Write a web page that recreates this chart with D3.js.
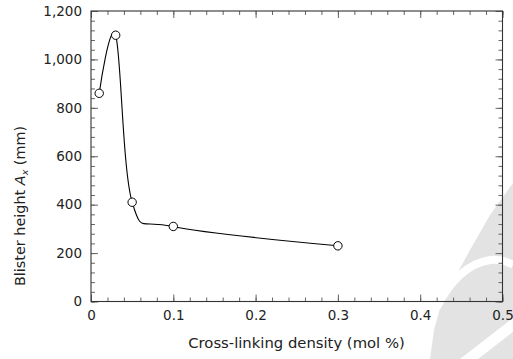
<!DOCTYPE html>
<html>
<head>
<meta charset="utf-8">
<script src="https://cdn.jsdelivr.net/npm/d3@7"></script>
<style>
  html, body { margin: 0; padding: 0; background: #fff; }
  svg { display: block; }
  text { font-family: "DejaVu Sans", sans-serif; fill: #222; }
</style>
</head>
<body>
<svg id="chart" width="513" height="359"></svg>
<script>
// ---- data ----
const density = [0.01, 0.03, 0.05, 0.1, 0.3];          // mol %
const blisterHeight = [860, 1100, 410, 310, 230];       // mm
const xTicks = [0, 0.1, 0.2, 0.3, 0.4, 0.5];
const yTicks = [0, 200, 400, 600, 800, 1000, 1200];
const xLabel = "Cross-linking density (mol %)";

const svg = d3.select("#chart");
const mL = 91, mR = 502.5, mT = 11, mB = 301.5;

// ---- faint watermark (background) ----
const wm = svg.append("g").attr("fill", "#e3e3e3");
wm.append("path").attr("d",
  "M513,183 L490,215 L470,250 L452,283 L441,305 L434,330 L430,359 L460,359 L513,318 Z");
wm.append("path").attr("d", "M478,359 L513,332 L513,359 Z");
svg.append("path")
  .attr("d", "M437,307 C449,282 468,263 490,260 C500,259 508,262 513,265")
  .attr("fill", "none").attr("stroke", "#fff").attr("stroke-width", 8);

const x = d3.scaleLinear().domain([0, 0.5]).range([mL, mR]);
const y = d3.scaleLinear().domain([0, 1200]).range([mB, mT]);

const xMinor = d3.range(0, 0.5001, 0.02);
const yMinor = d3.range(0, 1200.1, 40);

const tickColor = "#666";
const g = svg.append("g");

function styleTicks(a) {
  a.select(".domain").remove();
  a.selectAll("line").attr("stroke", tickColor);
}
function styleText(a) {
  a.selectAll("text").attr("font-size", 13.5).attr("fill", "#222")
    .attr("font-family", "DejaVu Sans, sans-serif");
}

// bottom axis
g.append("g").attr("transform", `translate(0,${mB})`)
  .call(d3.axisBottom(x).tickValues(xMinor).tickSize(-4).tickFormat(""))
  .call(styleTicks);
g.append("g").attr("transform", `translate(0,${mB})`)
  .call(d3.axisBottom(x).tickValues(xTicks).tickSize(-7).tickPadding(9)
        .tickFormat(d => d === 0 ? "0" : d3.format(".1f")(d)))
  .call(styleTicks).call(styleText);
// top axis (ticks only)
g.append("g").attr("transform", `translate(0,${mT})`)
  .call(d3.axisTop(x).tickValues(xMinor).tickSize(-4).tickFormat(""))
  .call(styleTicks);
g.append("g").attr("transform", `translate(0,${mT})`)
  .call(d3.axisTop(x).tickValues(xTicks).tickSize(-7).tickFormat(""))
  .call(styleTicks);
// left axis
g.append("g").attr("transform", `translate(${mL},0)`)
  .call(d3.axisLeft(y).tickValues(yMinor).tickSize(-4).tickFormat(""))
  .call(styleTicks);
g.append("g").attr("transform", `translate(${mL},0)`)
  .call(d3.axisLeft(y).tickValues(yTicks).tickSize(-7).tickPadding(9)
        .tickFormat(d3.format(",")))
  .call(styleTicks).call(styleText);
// right axis (ticks only)
g.append("g").attr("transform", `translate(${mR},0)`)
  .call(d3.axisRight(y).tickValues(yMinor).tickSize(-4).tickFormat(""))
  .call(styleTicks);
g.append("g").attr("transform", `translate(${mR},0)`)
  .call(d3.axisRight(y).tickValues(yTicks).tickSize(-7).tickFormat(""))
  .call(styleTicks);

// frame
g.append("rect")
  .attr("x", mL).attr("y", mT)
  .attr("width", mR - mL).attr("height", mB - mT)
  .attr("fill", "none").attr("stroke", "#333").attr("stroke-width", 1.1);

// curve
const pts = density.map((d, i) => [d, blisterHeight[i]]);
const line = d3.line().x(d => x(d[0])).y(d => y(d[1]))
  .curve(d3.curveCardinal.tension(0));
svg.append("path").datum(pts).attr("d", line)
  .attr("fill", "none").attr("stroke", "#000").attr("stroke-width", 1.1);

svg.append("g").selectAll("circle").data(pts).join("circle")
  .attr("cx", d => x(d[0])).attr("cy", d => y(d[1])).attr("r", 4.2)
  .attr("fill", "#fff").attr("stroke", "#000").attr("stroke-width", 1);

// axis labels
svg.append("text")
  .attr("x", 296.5).attr("y", 347.5)
  .attr("text-anchor", "middle").attr("font-size", 14.8)
  .text(xLabel);

const yl = svg.append("text")
  .attr("transform", "translate(25,286) rotate(-90)")
  .attr("text-anchor", "start").attr("font-size", 14.4);
yl.append("tspan").text("Blister height ");
yl.append("tspan").attr("font-style", "italic").text("A");
yl.append("tspan").attr("font-style", "italic").attr("font-size", 9.5).attr("dy", 3).text("x");
yl.append("tspan").attr("dy", -3).text(" (mm)");
</script>
</body>
</html>
